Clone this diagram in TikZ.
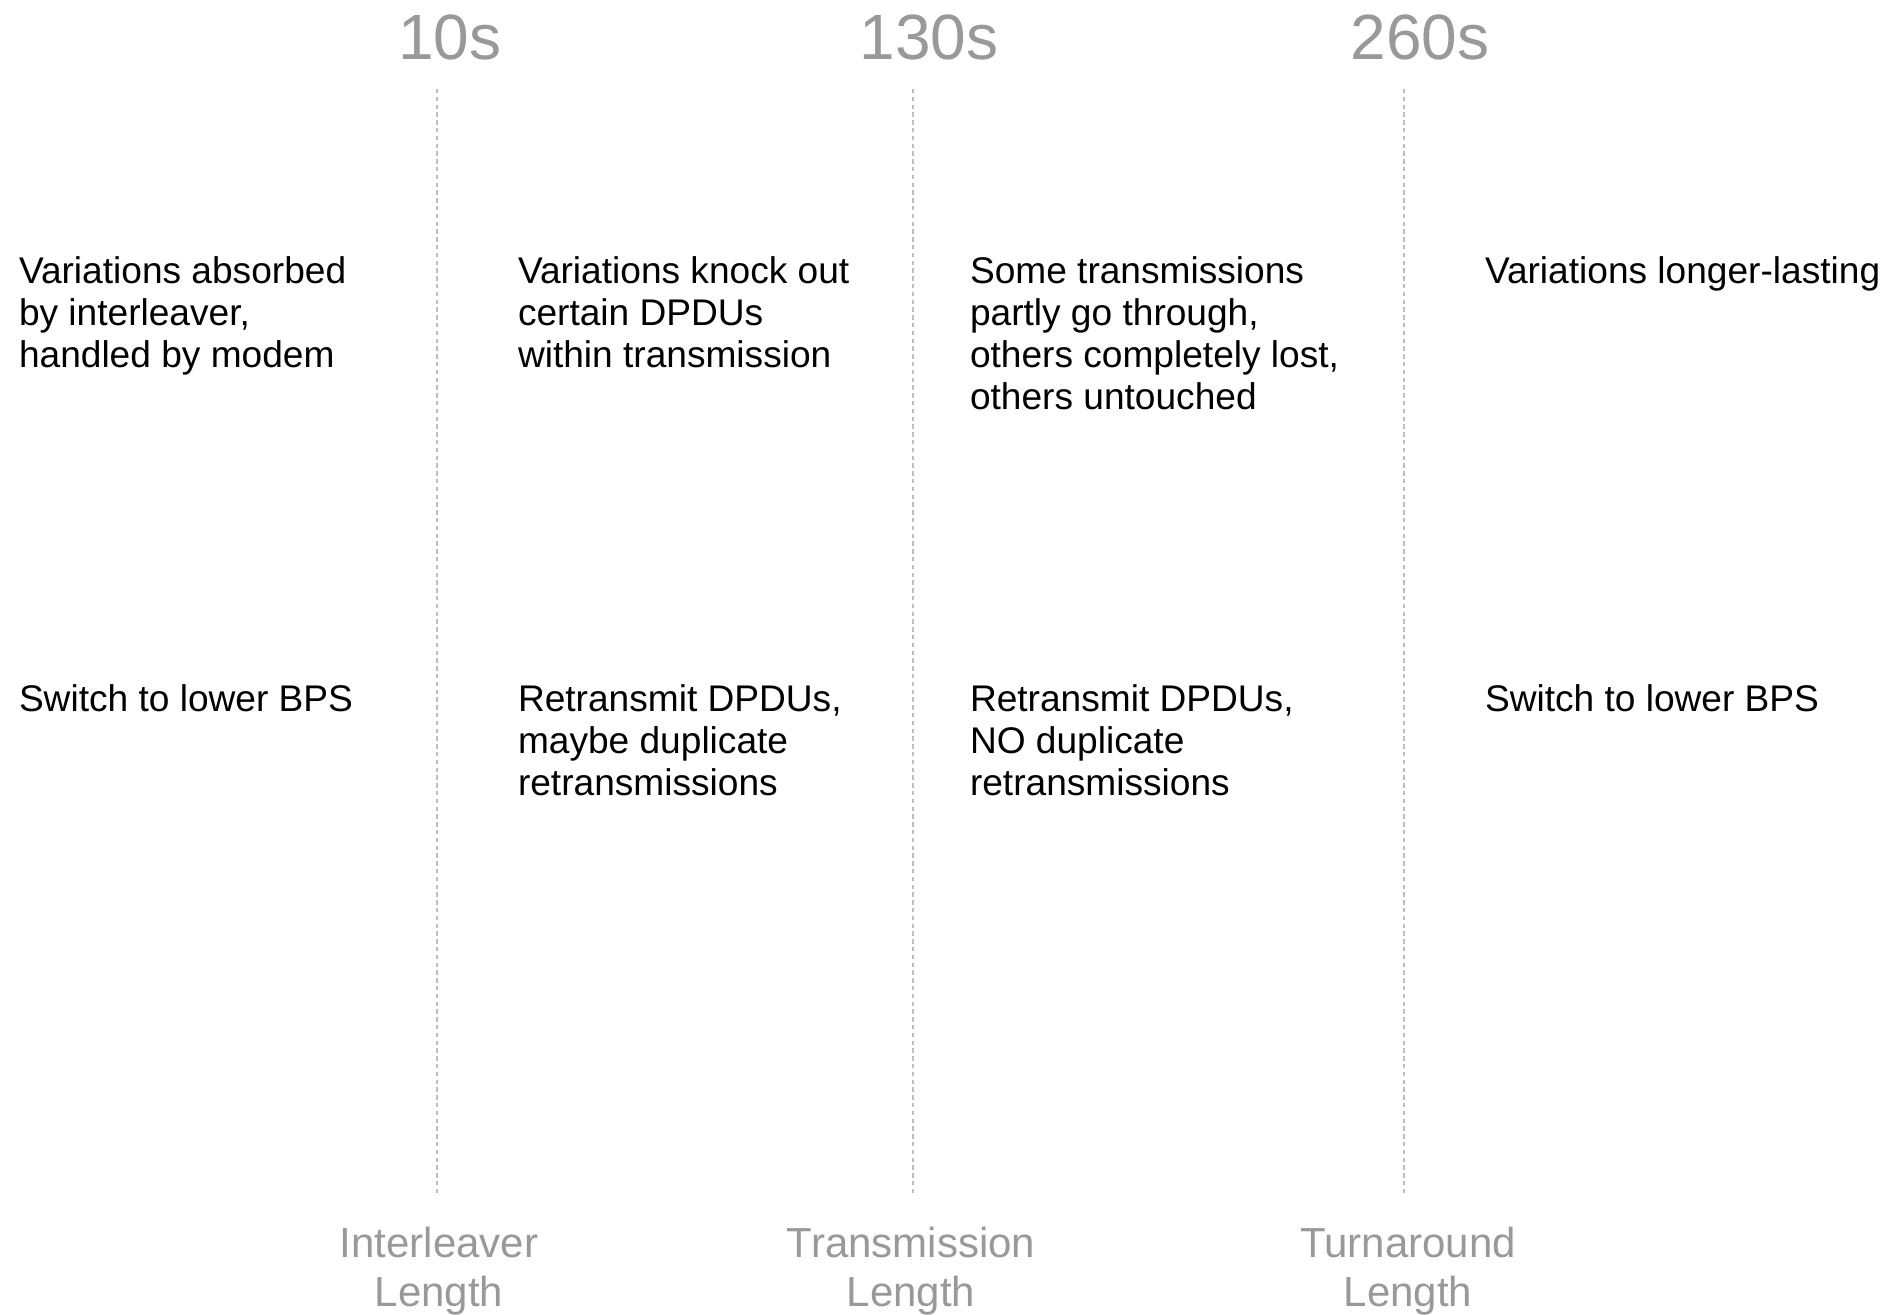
\documentclass[tikz,border=0pt]{standalone}
\usepackage{fontspec}
\setmainfont{Liberation Sans}
\definecolor{labelgray}{RGB}{153,153,153}
\definecolor{linegray}{RGB}{190,190,190}
\begin{document}
\begin{tikzpicture}[x=0.5pt,y=-0.5pt,
		every node/.style={inner sep=0pt,outer sep=0pt},
		timelabel/.style={anchor=base,text=labelgray,font=\fontsize{32}{36}\selectfont},
		effect/.style={anchor=north west,align=left,font=\fontsize{18.55}{20.95}\selectfont},
		boundlabel/.style={anchor=base,align=center,text=labelgray,font=\fontsize{21}{24.1}\selectfont},
		divider/.style={draw=linegray,line width=0.6pt,dash pattern=on 2.2pt off 1.7pt}]
	\path[use as bounding box] (0,0) rectangle (1892,1315);
	\node[timelabel] (t10) at (450,60) {10s};
	\node[timelabel] (t130) at (929,60) {130s};
	\node[timelabel] (t260) at (1420,60) {260s};
	\coordinate (il top) at (437,89);
	\coordinate (il bot) at (437,1195);
	\coordinate (tx top) at (913,89);
	\coordinate (tx bot) at (913,1195);
	\coordinate (ta top) at (1404,89);
	\coordinate (ta bot) at (1404,1195);
	\draw[divider] (il top) -- (il bot);
	\draw[divider] (tx top) -- (tx bot);
	\draw[divider] (ta top) -- (ta bot);
	\node[effect] (absorbed) at (19,257) {Variations absorbed\\by interleaver,\\handled by modem};
	\node[effect] (knockout) at (518,257) {Variations knock out\\certain DPDUs\\within transmission};
	\node[effect] (partly) at (970,257) {Some transmissions\\partly go through,\\others completely lost,\\others untouched};
	\node[effect] (longer) at (1485,257) {Variations longer-lasting};
	\node[effect] (lowbps a) at (19,685) {Switch to lower BPS};
	\node[effect] (retx dup) at (518,685) {Retransmit DPDUs,\\maybe duplicate\\retransmissions};
	\node[effect] (retx nodup) at (970,685) {Retransmit DPDUs,\\NO duplicate\\retransmissions};
	\node[effect] (lowbps b) at (1485,685) {Switch to lower BPS};
	\node[boundlabel] (il len) at (439,1306) {Interleaver\\Length};
	\node[boundlabel] (tx len) at (911,1306) {Transmission\\Length};
	\node[boundlabel] (ta len) at (1408,1306) {Turnaround\\Length};
\end{tikzpicture}
\end{document}
